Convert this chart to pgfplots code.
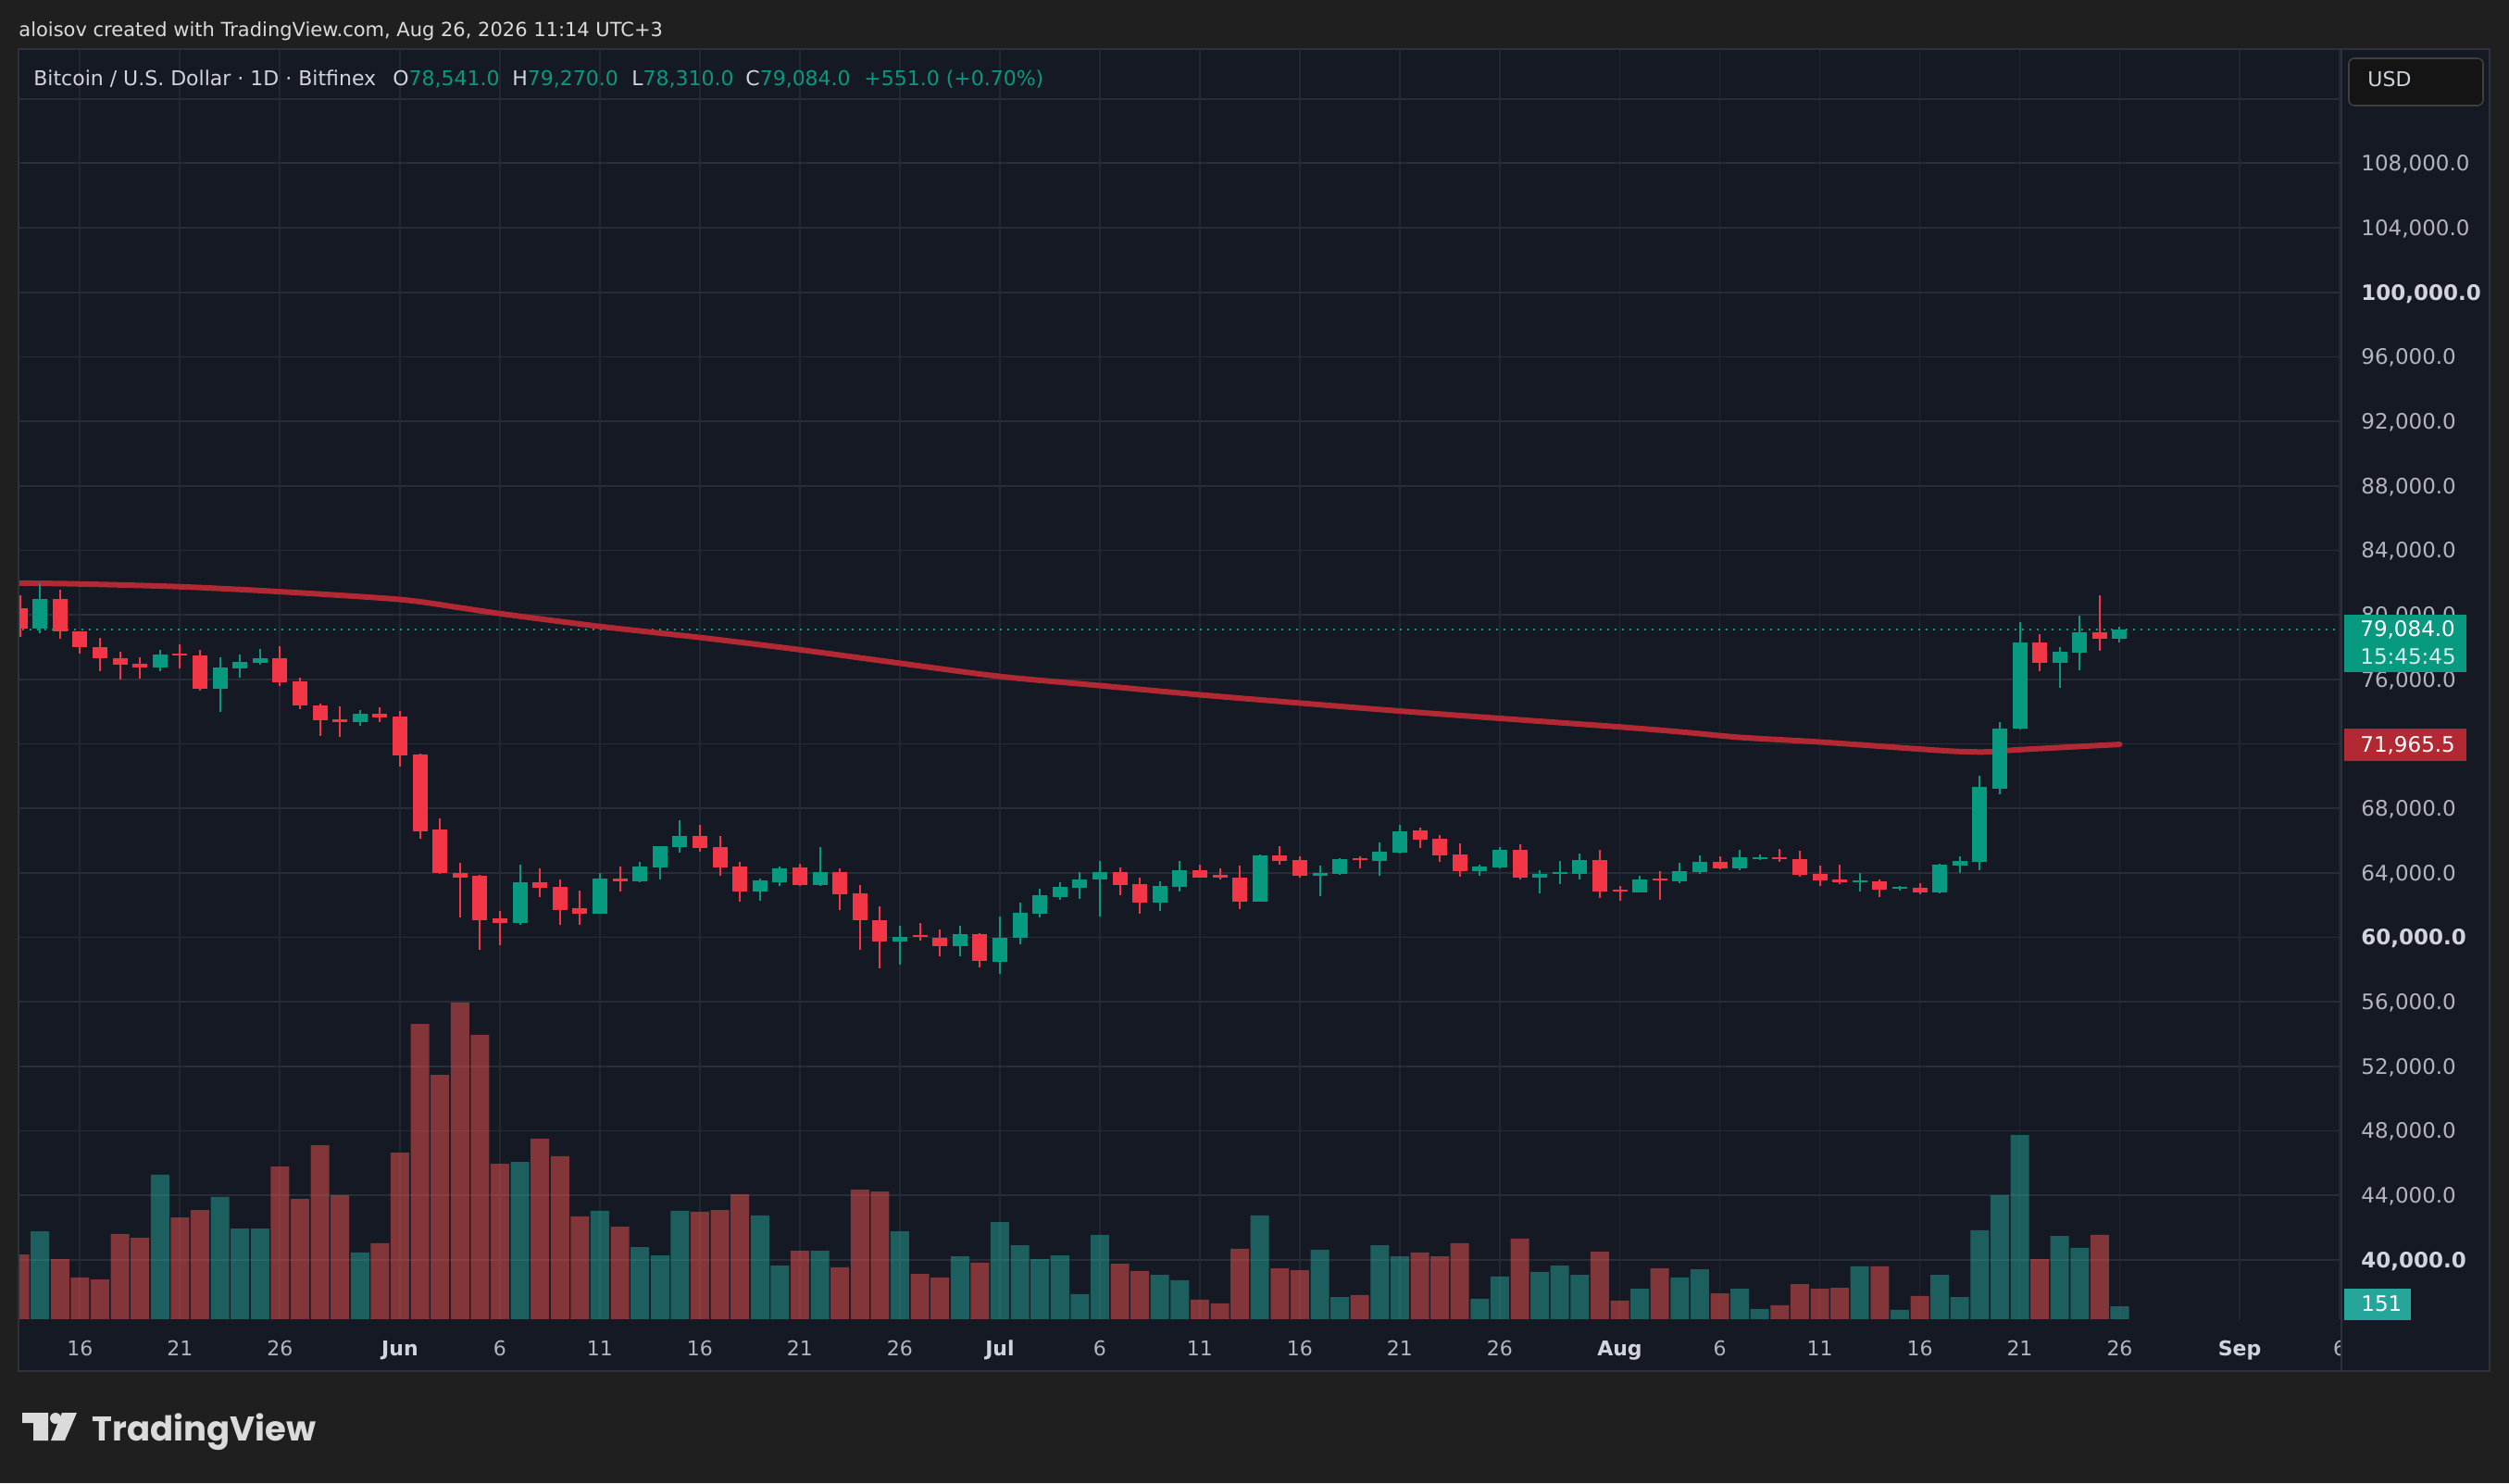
\documentclass[border=0pt]{standalone}
\usepackage{pgfplots}
\pgfplotsset{compat=1.18}
\usepackage{pgfplotstable}
\usepackage{fontspec}
\setmainfont{DejaVu Sans}
\newfontfamily\logofont{Poppins}
\definecolor{cOuter}{HTML}{1F1F1F}
\definecolor{cPanel}{HTML}{151924}
\definecolor{cGridX}{HTML}{222631}
\definecolor{cGridY}{HTML}{282C37}
\definecolor{cBorder}{HTML}{2E323C}
\definecolor{cUp}{HTML}{089981}
\definecolor{cDown}{HTML}{F23645}
\definecolor{cVolUp}{HTML}{26A69A}
\definecolor{cVolDown}{HTML}{EF5350}
\definecolor{cMA}{HTML}{B22833}
\definecolor{cTick}{HTML}{B2B5BE}
\definecolor{cTickB}{HTML}{D1D4DC}
\definecolor{cText}{HTML}{DBDBDB}

\pgfplotstableread{
d O H L C V
1 79158 81971 78832 80995 1026
7 76746 77837 76517 77550 1685
10 75426 77378 73990 76746 1426
11 76689 77550 76115 77091 1058
12 77033 77895 76918 77320 1058
17 73358 74105 73129 73875 778
25 60861 64478 60800 63387 1836
29 61492 63962 61450 63617 1264
31 63445 64650 63400 64363 842
32 64306 65680 63560 65627 745
33 65569 67234 65225 66258 1264
37 62813 63617 62239 63502 1210
38 63387 64363 63158 64249 626
40 63215 65569 63200 64019 799
44 59757 60736 58317 60045 1026
47 59469 60736 58835 60218 734
49 58490 61312 57741 59987 1134
50 59987 62176 59584 61542 864
51 61485 63040 61254 62637 702
52 62522 63443 62349 63155 745
53 63098 64019 62406 63616 292
54 63616 64710 61312 64019 983
57 62176 63501 61658 63213 518
58 63155 64710 62867 64134 454
62 62234 65114 62200 65056 1210
65 63809 64438 62552 63980 810
66 63923 64895 63900 64838 259
68 64723 65866 63809 65295 864
69 65238 66952 65180 66552 734
73 64095 64495 63809 64380 238
74 64323 65581 64300 65409 497
76 63695 64152 62723 63923 551
77 63923 64723 63295 64038 626
78 63923 65181 63580 64781 518
81 62780 63809 62760 63580 356
83 63466 64609 63352 64095 486
84 64038 65066 63923 64666 583
86 64266 65409 64152 64952 356
87 64860 65147 64803 64975 119
92 63425 63999 62851 63540 616
94 63023 63195 62908 63138 108
96 62793 64574 62736 64516 518
97 64458 65033 63999 64745 259
98 64688 70028 64171 69339 1037
99 69224 73358 68880 72956 1447
100 72956 79560 72900 78297 2149
102 77033 78009 75483 77722 972
103 77665 79962 76574 78928 832
105 78541 79270 78310 79084 151
}\upT

\pgfplotstableread{
d O H L C V
0 80421 81225 78641 79158 756
2 80995 81570 78526 78947 702
3 78947 79000 77569 78009 486
4 78009 78584 76517 77320 464
5 77320 77722 76000 76918 994
6 76976 77378 76057 76746 950
8 77607 78182 76689 77493 1188
9 77493 77837 75311 75426 1274
13 77320 78067 75598 75828 1782
14 75885 76115 74162 74392 1404
15 74392 74507 72497 73473 2030
16 73531 74335 72440 73358 1447
18 73875 74277 73358 73646 886
19 73703 74047 70603 71291 1944
20 71349 71400 66123 66583 3445
21 66698 67387 63950 63999 2851
22 64000 64640 61250 63720 3694
23 63789 63900 59196 61033 3316
24 61148 61607 59540 60861 1814
26 63387 64249 62469 63043 2106
27 63100 63560 60803 61665 1901
28 61780 62870 60746 61492 1199
30 63617 64363 62813 63445 1080
34 66258 66947 65282 65512 1253
35 65569 66258 63789 64306 1274
36 64363 64650 62182 62813 1458
39 64306 64536 63180 63215 799
41 64019 64249 61665 62641 605
42 62698 63215 59196 61033 1512
43 61082 61946 58086 59757 1490
45 60160 60909 59814 60045 529
46 59987 60506 58835 59469 486
48 60218 60250 58144 58547 659
55 64019 64307 62637 63270 648
56 63328 63731 61485 62176 562
59 64134 64480 63700 63731 227
60 63846 64250 63616 63731 184
61 63731 64422 61773 62234 821
63 65056 65632 64480 64710 594
64 64781 65009 63695 63809 572
67 64895 65009 64266 64781 281
70 66609 66781 65523 66038 778
71 66095 66324 64666 65066 734
72 65123 65809 63752 64095 886
75 65409 65752 63580 63695 940
79 64781 65409 62437 62837 788
80 62952 63180 62266 62837 216
82 63638 64095 62323 63523 594
85 64666 65009 64209 64266 302
88 64975 65492 64688 64860 162
89 64860 65377 63769 63884 410
90 63941 64458 63195 63540 356
91 63597 64516 63310 63425 367
93 63482 63597 62506 62965 616
95 63080 63367 62678 62793 270
101 78297 78813 76517 77033 702
104 78928 81225 77780 78541 983
}\dnT

\pgfplotsset{
  wick/.style={only marks, mark=*, mark size=0pt, mark options={draw=none, fill=none}, forget plot,
    error bars/y dir=minus, error bars/y explicit, error bars/error mark=none,
    error bars/error bar style={draw=#1, line width=1pt}},
  body/.style={only marks, mark=*, mark size=0pt, mark options={draw=none, fill=none}, forget plot,
    error bars/y dir=minus, error bars/y explicit, error bars/error mark=none,
    error bars/error bar style={draw=#1, line width=8pt}},
}

\begin{document}
\begin{tikzpicture}
\useasboundingbox (0,0) rectangle (1355pt,801pt);
\fill[cOuter] (0,0) rectangle (1355pt,801pt);
\begin{scope}[shift={(0,801pt)},x=0.5pt,y=-0.5pt]
\fill[cPanel] (20,53) rectangle (2689,1481);
\end{scope}

\begin{axis}[
  at={(10pt,88.5pt)}, anchor=south west, scale only axis,
  width=1254.5pt, height=686pt,
  xmin=-0.074, xmax=116.09, ymin=36318, ymax=115085,
  axis line style={draw=none}, major tick length=0pt,
  scaled y ticks=false, scaled x ticks=false,
  xtick={3,8,13,19,24,29,34,39,44,49,54,59,64,69,74,80,85,90,95,100,105,111,116},
  xticklabels={16,21,26,{\color{cTickB}\bfseries Jun},6,11,16,21,26,{\color{cTickB}\bfseries Jul},6,11,16,21,26,{\color{cTickB}\bfseries Aug},6,11,16,21,26,{\color{cTickB}\bfseries Sep},6},
  ytick={40000,44000,48000,52000,56000,60000,64000,68000,72000,76000,80000,84000,88000,92000,96000,100000,104000,108000,112000},
  yticklabels={{\color{cTickB}\bfseries 40,000.0},{44,000.0},{48,000.0},{52,000.0},{56,000.0},{\color{cTickB}\bfseries 60,000.0},{64,000.0},{68,000.0},{72,000.0},{76,000.0},{80,000.0},{84,000.0},{88,000.0},{92,000.0},{96,000.0},{\color{cTickB}\bfseries 100,000.0},{104,000.0},{108,000.0},{}},
  yticklabel pos=right,
  grid=major,
  x grid style={color=cGridX, line width=0.9pt},
  y grid style={color=cGridY, line width=0.9pt},
  xticklabel style={font=\fontsize{11}{11}\selectfont, text=cTick, anchor=base, inner sep=0pt, yshift=-19.7pt},
  yticklabel style={font=\fontsize{11.5}{11.5}\selectfont, text=cTick, anchor=base west, inner sep=0pt, xshift=10.5pt, yshift=-4.2pt},
]
% last price dotted line
\addplot[cUp, line width=1pt, dash pattern=on 1pt off 3pt, forget plot] coordinates {(-1,79084) (117,79084)};
% moving average
\addplot[cMA, line width=3pt, smooth, line cap=round, forget plot] coordinates {
(-0.3,81995) (0,81971) (3,81914) (8,81742) (13,81436) (19,80950) (22,80440) (24,80076)
(29,79278) (34,78594) (39,77834) (44,76998) (49,76181) (54,75611) (59,75041) (64,74528)
(69,74034) (74,73578) (80,73046) (83.2,72723) (86,72401) (90,72114) (95,71674) (97,71521)
(98.5,71502) (100,71636) (105,71965)};
% candles
\addplot[wick=cUp] table[x=d, y=H, y error minus expr=\thisrow{H}-\thisrow{L}] {\upT};
\addplot[body=cUp] table[x=d, y=C, y error minus expr=\thisrow{C}-\thisrow{O}] {\upT};
\addplot[wick=cDown] table[x=d, y=H, y error minus expr=\thisrow{H}-\thisrow{L}] {\dnT};
\addplot[body=cDown] table[x=d, y=O, y error minus expr=\thisrow{O}-\thisrow{C}] {\dnT};
\end{axis}

\begin{axis}[
  at={(10pt,88.5pt)}, anchor=south west, scale only axis,
  width=1254.5pt, height=686pt,
  xmin=-0.074, xmax=116.09, ymin=0, ymax=14818,
  hide axis,
]
\addplot[ybar, bar width=10pt, bar shift=0pt, fill=cVolUp, fill opacity=0.5, draw=none] table[x=d, y=V] {\upT};
\addplot[ybar, bar width=10pt, bar shift=0pt, fill=cVolDown, fill opacity=0.5, draw=none] table[x=d, y=V] {\dnT};
\end{axis}

\begin{scope}[shift={(0,801pt)},x=0.5pt,y=-0.5pt]
% cover the time-axis cell under the price scale
\fill[cPanel] (2529,1425) rectangle (2689,1481);
% borders
\draw[cBorder, line width=1pt] (20,53) rectangle (2689,1481);
\draw[cBorder, line width=1pt] (2529,53) -- (2529,1481);
% header
\node[anchor=base west, inner sep=0pt, text=cText, font=\fontsize{10.5}{10.5}\selectfont] at (20,39.3) {aloisov created with TradingView.com, Aug 26, 2026 11:14 UTC+3};
% legend
\begin{scope}[every node/.style={anchor=base west, inner sep=0pt, font=\fontsize{11}{11}\selectfont}]
\node[text=cTickB] at (36,93) {Bitcoin / U.S. Dollar · 1D · Bitfinex};
\node[text=cTickB] at (424,93) {O\textcolor{cUp}{78,541.0}};
\node[text=cTickB] at (553,93) {H\textcolor{cUp}{79,270.0}};
\node[text=cTickB] at (682,93) {L\textcolor{cUp}{78,310.0}};
\node[text=cTickB] at (805,93) {C\textcolor{cUp}{79,084.0}};
\node[text=cUp] at (933,93) {+551.0 (+0.70\%)};
\end{scope}
% USD button
\draw[fill=black!92, draw=black!75, rounded corners=3pt, line width=0.8pt] (2537,63) rectangle (2682,114);
\node[anchor=base west, inner sep=0pt, text=cTickB, font=\fontsize{11}{11}\selectfont] at (2557,94) {USD};
% price labels
\fill[cUp] (2532,664) rectangle (2664,726);
\node[anchor=base west, inner sep=0pt, text=white, font=\fontsize{11.5}{11.5}\selectfont] at (2549,688) {79,084.0};
\node[anchor=base west, inner sep=0pt, text=white!82!cUp, font=\fontsize{11.5}{11.5}\selectfont] at (2549,718) {15:45:45};
\fill[cMA] (2532,787) rectangle (2664,822);
\node[anchor=base west, inner sep=0pt, text=white, font=\fontsize{11.5}{11.5}\selectfont] at (2549,813) {71,965.5};
\fill[cVolUp] (2532,1392) rectangle (2604,1426);
\node[anchor=base west, inner sep=0pt, text=white, font=\fontsize{11.5}{11.5}\selectfont] at (2550,1417) {151};
% logo
\fill[cText] (24,1526) -- (52,1526) -- (52,1556) -- (36,1556) -- (36,1537) -- (24,1537) -- cycle;
\fill[cText] (60,1532) circle (6);
\fill[cText] (67,1526) -- (83,1526) -- (70,1556) -- (55,1556) -- cycle;
\node[anchor=base west, inner sep=0pt, text=cText, font=\logofont\bfseries\fontsize{18.5}{18.5}\selectfont] at (99,1556) {TradingView};
\end{scope}
\end{tikzpicture}
\end{document}
